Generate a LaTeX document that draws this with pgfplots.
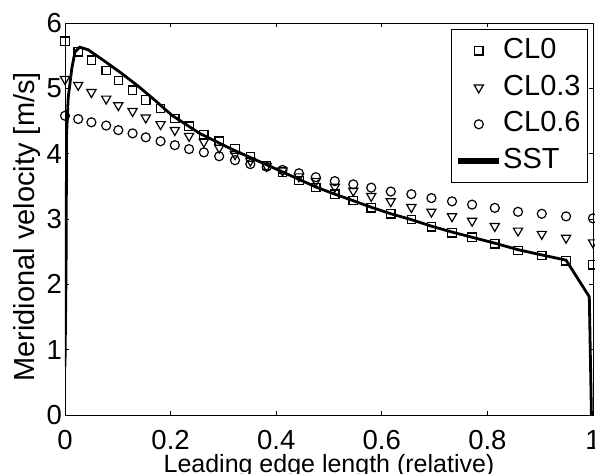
\documentclass[border=0pt]{standalone}
\usepackage{fontspec}
\setmainfont{Liberation Sans}
\usepackage{pgfplots}
\pgfplotsset{compat=1.18}

% legend images: 38pt wide, a thick bar or one mark in the middle
\pgfplotsset{
  legline/.style={legend image code/.code={%
    \fill[black] (0pt,-1.4pt) rectangle (38pt,1.4pt);}},
  legmark/.style={legend image code/.code={%
    \path[draw=none, fill=none] (0pt,-1pt) rectangle (38pt,1pt);
    \draw[##1] plot[only marks] coordinates {(19pt,0pt)};}},
}

\begin{document}
\begin{tikzpicture}
\begin{axis}[
  scale only axis, width=528pt, height=392pt,
  xmin=0, xmax=1, ymin=0, ymax=6,
  xtick={0,0.2,0.4,0.6,0.8,1}, xticklabels={0,0.2,0.4,0.6,0.8,1},
  ytick={0,1,2,3,4,5,6}, yticklabels={0,1,2,3,4,5,6},
  tick align=inside, major tick length=4pt,
  axis line style={line width=0.8pt},
  tick style={line width=0.8pt, black},
  /pgf/number format/assume math mode=true,
  ticklabel style={font=\fontsize{27.5}{27.5}\selectfont, inner sep=0pt},
  xticklabel shift=15pt, yticklabel shift=3pt,
  xlabel={Leading edge length (relative)},
  ylabel={Meridional velocity [m/s]},
  xlabel style={font=\fontsize{25}{25}\selectfont, at={(axis description cs:0.5,-0.146)}, anchor=base},
  ylabel style={font=\fontsize{29}{29}\selectfont, at={(axis description cs:-0.0587,0.48)}, anchor=base},
  legend cell align=left,
  legend style={at={(axis description cs:0.9905,0.9847)}, anchor=north east,
    draw=black, line width=0.8pt, font=\fontsize{29}{29}\selectfont,
    inner xsep=7pt, inner ysep=8pt, row sep=9.7pt, column sep=4pt,
    nodes={inner sep=0pt, text height=21pt, text depth=6pt}},
]
% CL0
\addplot[only marks, mark=square, mark size=4.2pt, mark options={line width=1.2pt, black}, legmark] coordinates {
  (0,5.72) (0.025,5.56) (0.050,5.43) (0.078,5.27) (0.101,5.12) (0.128,4.97)
  (0.153,4.82) (0.181,4.69) (0.208,4.54) (0.235,4.42) (0.263,4.29) (0.292,4.19)
  (0.322,4.07) (0.351,3.95) (0.382,3.82) (0.412,3.72) (0.443,3.59) (0.475,3.48)
  (0.511,3.38) (0.546,3.28) (0.580,3.17) (0.617,3.08) (0.656,2.99) (0.694,2.88)
  (0.733,2.79) (0.771,2.72) (0.814,2.62) (0.858,2.52) (0.903,2.44) (0.949,2.36)
  (1.000,2.30)
};
\addlegendentry{CL0}
% CL0.3
\addplot[only marks, mark=triangle, mark size=5.3pt, mark options={rotate=180, line width=1.2pt, black}, legmark] coordinates {
  (0,5.14) (0.025,5.05) (0.050,4.94) (0.078,4.84) (0.101,4.74) (0.128,4.65)
  (0.153,4.55) (0.181,4.45) (0.208,4.36) (0.235,4.27) (0.263,4.18) (0.292,4.09)
  (0.322,3.99) (0.351,3.89) (0.382,3.81) (0.412,3.74) (0.443,3.65) (0.475,3.58)
  (0.511,3.49) (0.546,3.43) (0.580,3.35) (0.617,3.27) (0.656,3.18) (0.694,3.11)
  (0.733,3.04) (0.771,2.97) (0.814,2.89) (0.858,2.82) (0.903,2.77) (0.949,2.71)
  (1.000,2.64)
};
\addlegendentry{CL0.3}
% CL0.6
\addplot[only marks, mark=o, mark size=4.5pt, mark options={line width=1.2pt, black}, legmark] coordinates {
  (0,4.58) (0.025,4.53) (0.050,4.48) (0.078,4.43) (0.101,4.36) (0.128,4.31)
  (0.153,4.25) (0.181,4.19) (0.208,4.13) (0.235,4.07) (0.263,4.02) (0.292,3.96)
  (0.322,3.90) (0.351,3.84) (0.382,3.80) (0.412,3.75) (0.443,3.70) (0.475,3.64)
  (0.511,3.58) (0.546,3.53) (0.580,3.48) (0.617,3.42) (0.656,3.38) (0.694,3.32)
  (0.733,3.27) (0.771,3.22) (0.814,3.17) (0.858,3.11) (0.903,3.08) (0.949,3.04)
  (1.000,3.01)
};
\addlegendentry{CL0.6}
% SST
\addplot[black, line width=2.8pt, no marks, legline] coordinates {
  (0,0.74) (0.002,2.2) (0.003,4.29) (0.006,4.85) (0.013,5.31) (0.019,5.56)
  (0.028,5.63) (0.044,5.59) (0.076,5.41) (0.107,5.23) (0.139,5.03) (0.170,4.82)
  (0.202,4.59) (0.255,4.31) (0.318,4.06) (0.382,3.83) (0.445,3.60) (0.475,3.49)
  (0.511,3.38) (0.546,3.28) (0.580,3.18) (0.617,3.08) (0.656,2.99) (0.694,2.89)
  (0.733,2.80) (0.771,2.72) (0.814,2.63) (0.858,2.53) (0.903,2.45) (0.949,2.37)
  (0.993,1.81) (0.997,0)
};
\addlegendentry{SST}
\end{axis}
\pgfresetboundingbox
\path[use as bounding box] ([shift={(-65pt,-59pt)}]current axis.south west) rectangle ([shift={(2pt,23pt)}]current axis.north east);
\end{tikzpicture}
\end{document}
